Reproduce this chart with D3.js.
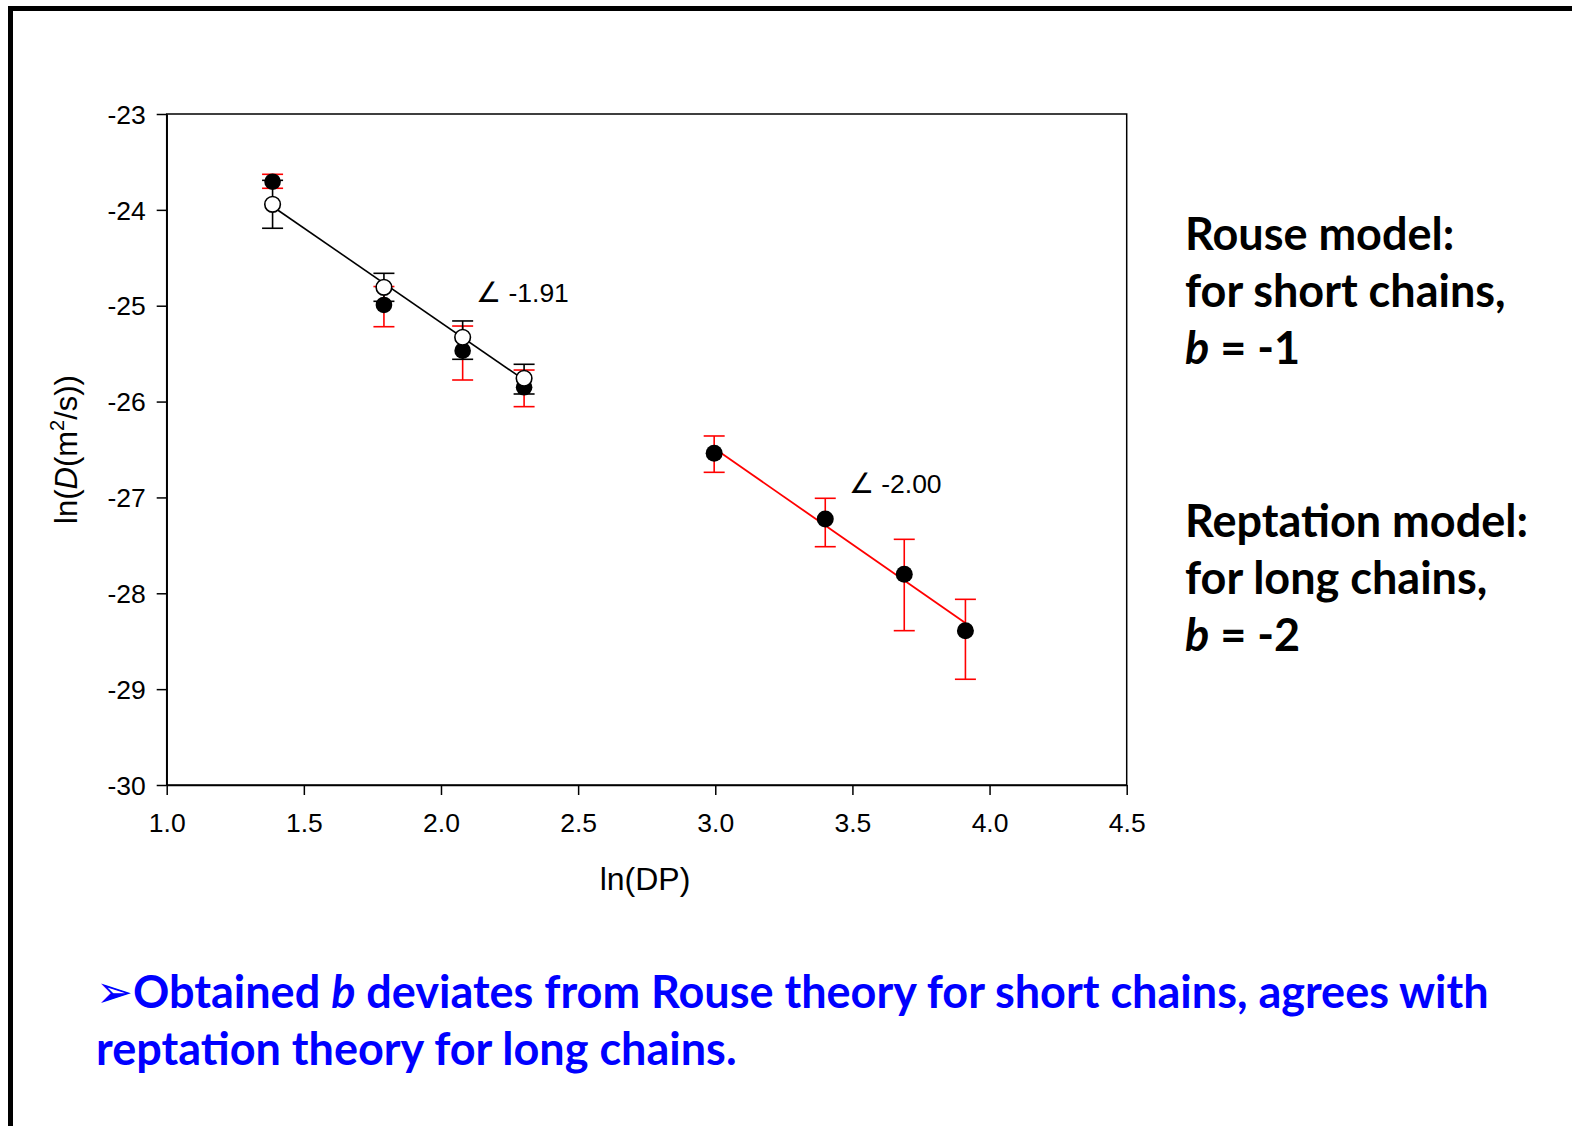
<!DOCTYPE html>
<html>
<head>
<meta charset="utf-8">
<script src="https://cdn.jsdelivr.net/npm/d3@7"></script>
<style>
  html, body { margin: 0; padding: 0; background: #fff; }
  svg { display: block; }
</style>
</head>
<body>
<svg id="chart" width="1572" height="1126"></svg>
<script>
// ---------- data ----------
const xShort = [1.386, 1.792, 2.079, 2.303];          // ln(DP) short chains
const filledShort = [-23.706, -24.992, -25.469, -25.851];
const filledShortLo = [-23.775, -25.219, -25.775, -26.053];
const filledShortHi = [-23.629, -24.800, -25.212, -25.671];
const openShort = [-23.942, -24.808, -25.329, -25.757];
const openShortLo = [-24.192, -24.954, -25.559, -25.921];
const openShortHi = [-23.692, -24.662, -25.159, -25.611];

const xLong = [2.996, 3.401, 3.689, 3.912];           // ln(DP) long chains
const filledLong = [-26.540, -27.225, -27.802, -28.390];
const filledLongLo = [-26.738, -27.514, -28.390, -28.897];
const filledLongHi = [-26.359, -27.009, -27.437, -28.063];

const xTicks = [1.0, 1.5, 2.0, 2.5, 3.0, 3.5, 4.0, 4.5];
const xTickLabels = ["1.0", "1.5", "2.0", "2.5", "3.0", "3.5", "4.0", "4.5"];
const yTicks = [-30, -29, -28, -27, -26, -25, -24, -23];
const yTickLabels = ["-30", "-29", "-28", "-27", "-26", "-25", "-24", "-23"];

const slopeLabels = ["-1.91", "-2.00"];
const slopeLabelX = [2.128, 3.487];
const slopeLabelY = [-24.96, -26.954];

const rouseLines = ["Rouse model:", "for short chains,", "= -1"];
const reptLines = ["Reptation model:", "for long chains,", "= -2"];
const noteLine1 = " deviates from Rouse theory for short chains, agrees with";
const noteLine2 = "reptation theory for long chains.";

// ---------- layout ----------
const svg = d3.select("#chart");
const x = d3.scaleLinear().domain([1, 4.5]).range([166.7, 1126.7]);
const y = d3.scaleLinear().domain([-30, -23]).range([785, 114]);
const RED = "#ff0000";
const BLUE = "#0000ff";
const FONT = "'Liberation Sans', Arial, sans-serif";
const BOLD = "Lato, 'Open Sans', sans-serif";

// slide border (top & left)
svg.append("path")
  .attr("d", "M10.5,1126 L10.5,8.5 L1572,8.5")
  .attr("fill", "none").attr("stroke", "#000").attr("stroke-width", 5);

// plot frame
const g = svg.append("g");
g.append("rect")
  .attr("x", x(1)).attr("y", y(-23))
  .attr("width", x(4.5) - x(1)).attr("height", y(-30) - y(-23))
  .attr("fill", "none").attr("stroke", "#000").attr("stroke-width", 1.5);

// axes
const yAxis = d3.axisLeft(y).tickValues(yTicks).tickSize(10).tickSizeOuter(0)
  .tickPadding(11).tickFormat((d, i) => yTickLabels[i]);
const xAxis = d3.axisBottom(x).tickValues(xTicks).tickSize(10).tickSizeOuter(0)
  .tickPadding(18).tickFormat((d, i) => xTickLabels[i]);

const gy = g.append("g").attr("transform", `translate(${x(1)},0)`).call(yAxis);
const gx = g.append("g").attr("transform", `translate(0,${y(-30)})`).call(xAxis);
[gx, gy].forEach(a => {
  a.select(".domain").attr("stroke-width", 1.5);
  a.selectAll(".tick line").attr("stroke-width", 1.5);
  a.selectAll(".tick text").attr("font-family", FONT).attr("font-size", 26.5).attr("fill", "#000");
});
gy.selectAll(".tick text").attr("dy", "0.35em");

// axis titles
svg.append("text")
  .attr("x", 645).attr("y", 890)
  .attr("text-anchor", "middle").attr("font-family", FONT).attr("font-size", 32)
  .text("ln(DP)");

const yt = svg.append("text")
  .attr("transform", `translate(77,${(y(-23) + y(-30)) / 2}) rotate(-90)`)
  .attr("text-anchor", "middle").attr("font-family", FONT).attr("font-size", 31);
yt.append("tspan").text("ln(");
yt.append("tspan").attr("font-style", "italic").text("D");
yt.append("tspan").text("(m");
yt.append("tspan").attr("font-size", 20).attr("dy", -13).text("2");
yt.append("tspan").attr("dy", 13).text("/s))");

// regression helper
function fit(xs, ys) {
  const mx = d3.mean(xs), my = d3.mean(ys);
  const sxy = d3.sum(xs, (v, i) => (v - mx) * (ys[i] - my));
  const sxx = d3.sum(xs, v => (v - mx) * (v - mx));
  const b = sxy / sxx;
  return v => my + b * (v - mx);
}

function errorBars(sel, xs, lo, hi, color) {
  const cap = 10.5;
  const grp = sel.append("g").attr("stroke", color).attr("stroke-width", 1.6).attr("fill", "none");
  xs.forEach((xv, i) => {
    grp.append("line").attr("x1", x(xv)).attr("x2", x(xv)).attr("y1", y(lo[i])).attr("y2", y(hi[i]));
    grp.append("line").attr("x1", x(xv) - cap).attr("x2", x(xv) + cap).attr("y1", y(lo[i])).attr("y2", y(lo[i]));
    grp.append("line").attr("x1", x(xv) - cap).attr("x2", x(xv) + cap).attr("y1", y(hi[i])).attr("y2", y(hi[i]));
  });
}

// short chains: red error bars + filled points
errorBars(g, xShort, filledShortLo, filledShortHi, RED);
g.selectAll(".fs").data(xShort).join("circle")
  .attr("cx", d => x(d)).attr("cy", (d, i) => y(filledShort[i])).attr("r", 8.3).attr("fill", "#000");

// open points error bars
errorBars(g, xShort, openShortLo, openShortHi, "#000");

// black fit line
const f1 = fit(xShort, openShort);
g.append("line")
  .attr("x1", x(xShort[0])).attr("y1", y(f1(xShort[0])))
  .attr("x2", x(xShort[3])).attr("y2", y(f1(xShort[3])))
  .attr("stroke", "#000").attr("stroke-width", 1.6);

g.selectAll(".os").data(xShort).join("circle")
  .attr("cx", d => x(d)).attr("cy", (d, i) => y(openShort[i])).attr("r", 7.8)
  .attr("fill", "#fff").attr("stroke", "#000").attr("stroke-width", 1.6);

// long chains
errorBars(g, xLong, filledLongLo, filledLongHi, RED);
const f2 = fit(xLong, filledLong);
g.append("line")
  .attr("x1", x(xLong[0])).attr("y1", y(f2(xLong[0])))
  .attr("x2", x(xLong[3])).attr("y2", y(f2(xLong[3])))
  .attr("stroke", RED).attr("stroke-width", 1.8);
g.selectAll(".fl").data(xLong).join("circle")
  .attr("cx", d => x(d)).attr("cy", (d, i) => y(filledLong[i])).attr("r", 8.5).attr("fill", "#000");

// slope annotations
slopeLabels.forEach((s, i) => {
  const t = g.append("text").attr("x", x(slopeLabelX[i])).attr("y", y(slopeLabelY[i]))
    .attr("font-family", FONT).attr("font-size", 26.5);
  t.append("tspan").attr("font-family", "'DejaVu Sans', sans-serif").attr("font-weight", 200)
    .attr("font-size", 28).text("\u2220");
  t.append("tspan").text(" " + s);
});

// right-hand notes
function modelBlock(lines, y0) {
  lines.forEach((l, i) => {
    const t = svg.append("text").attr("x", 1185).attr("y", y0 + i * 57)
      .attr("font-family", BOLD).attr("font-weight", 700).attr("font-size", 45).attr("fill", "#000");
    if (i === 2) {
      t.append("tspan").attr("font-style", "italic").text("b");
      t.append("tspan").text(" " + l);
    } else t.text(l);
  });
}
modelBlock(rouseLines, 250);
modelBlock(reptLines, 537);

// bottom note
svg.append("text").attr("x", 96).attr("y", 1007)
  .attr("font-family", "'DejaVu Sans', sans-serif").attr("font-size", 44).attr("fill", BLUE)
  .text("\u27A2");
const n1 = svg.append("text").attr("x", 133).attr("y", 1008)
  .attr("font-family", BOLD).attr("font-weight", 700).attr("font-size", 45).attr("fill", BLUE);
n1.append("tspan").text("Obtained ");
n1.append("tspan").attr("font-style", "italic").text("b");
n1.append("tspan").text(noteLine1);
svg.append("text").attr("x", 96).attr("y", 1065)
  .attr("font-family", BOLD).attr("font-weight", 700).attr("font-size", 45).attr("fill", BLUE)
  .text(noteLine2);
</script>
</body>
</html>
